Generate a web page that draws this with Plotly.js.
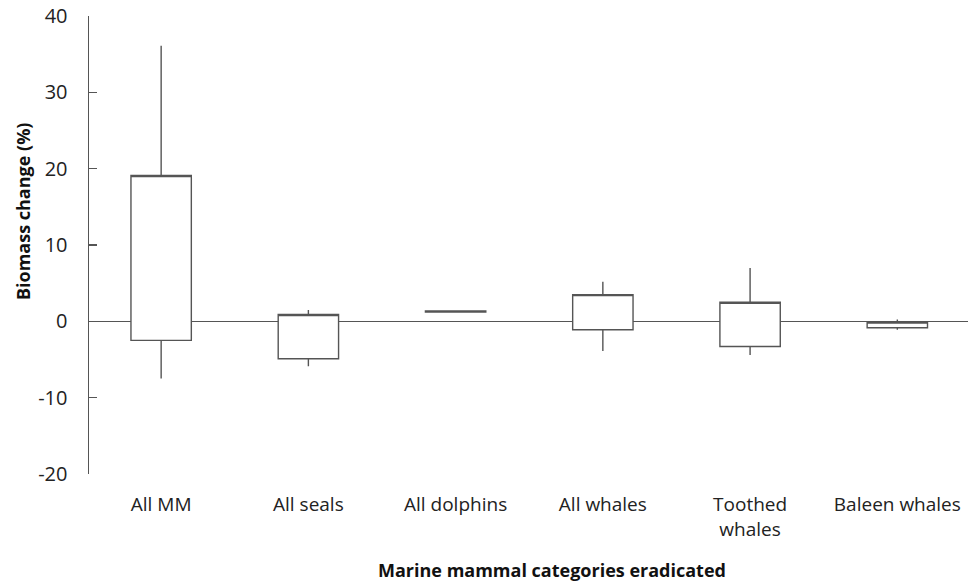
<!DOCTYPE html>
<html>
<head>
<meta charset="utf-8">
<script src="https://cdn.plot.ly/plotly-3.0.1.min.js"></script>
<style>html,body{margin:0;padding:0;background:#fff;}#chart{width:968px;height:586px;}</style>
</head>
<body>
<div id="chart"></div>
<script>
const categories = ["All MM", "All seals", "All dolphins", "All whales", "Toothed whales", "Baleen whales"];
const tickLabels = ["All MM", "All seals", "All dolphins", "All whales", "Toothed<br>whales", "Baleen whales"];
const upperWhisker = [36.1, 1.5, 1.35, 5.2, 7.0, 0.25];
const boxTop = [19.1, 0.9, 1.35, 3.5, 2.5, -0.1];
const boxBottom = [-2.5, -4.9, 1.2, -1.1, -3.3, -0.85];
const lowerWhisker = [-7.5, -5.9, 1.2, -3.9, -4.4, -1.1];
const yTicks = [-20, -10, 0, 10, 20, 30, 40];
const yTickText = ["-20", "-10", "0", "10", "20", "30", "40"];

const font = "'Open Sans', 'DejaVu Sans', sans-serif";
const lineColor = "#555555";

const trace = {
  type: "box",
  x: categories,
  q1: boxBottom,
  median: boxTop,
  q3: boxTop,
  lowerfence: lowerWhisker,
  upperfence: upperWhisker,
  width: 0.41,
  boxpoints: false,
  fillcolor: "#ffffff",
  line: {color: lineColor, width: 1.4},
  whiskerwidth: 0,
  hoverinfo: "skip",
  showlegend: false
};

const layout = {
  width: 968,
  height: 586,
  margin: {l: 89, r: 0, t: 16, b: 112},
  paper_bgcolor: "#ffffff",
  plot_bgcolor: "#ffffff",
  font: {family: font, size: 20, color: "#222222"},
  xaxis: {
    type: "category",
    categoryarray: categories,
    tickvals: categories,
    ticktext: tickLabels,
    range: [-0.49, 5.48],
    showline: false,
    showgrid: false,
    zeroline: false,
    ticks: "",
    ticklabelstandoff: 17,
    tickfont: {family: font, size: 19, color: "#222222"}
  },
  yaxis: {
    range: [-20, 40],
    tickvals: yTicks,
    ticktext: yTickText,
    showline: true,
    linecolor: lineColor,
    linewidth: 1.5,
    ticks: "inside",
    ticklen: 8,
    tickwidth: 1.5,
    tickcolor: lineColor,
    showgrid: false,
    zeroline: true,
    zerolinecolor: lineColor,
    zerolinewidth: 1.5,
    ticklabelstandoff: 16,
    tickfont: {family: font, size: 20, color: "#222222"}
  },
  annotations: [
    {
      text: "<b>Biomass change (%)</b>",
      xref: "paper", yref: "paper",
      x: -0.075, y: 1 - (211 - 16) / 458,
      xanchor: "center", yanchor: "middle",
      textangle: -90,
      showarrow: false,
      font: {family: font, size: 18, color: "#111111"}
    },
    {
      text: "<b>Marine mammal categories eradicated</b>",
      xref: "paper", yref: "paper",
      x: (552 - 89) / 879, y: -(570 - 474) / 458,
      xanchor: "center", yanchor: "middle",
      showarrow: false,
      font: {family: font, size: 18, color: "#111111"}
    }
  ]
};

Plotly.newPlot("chart", [trace], layout, {displayModeBar: false, staticPlot: true});
</script>
</body>
</html>
